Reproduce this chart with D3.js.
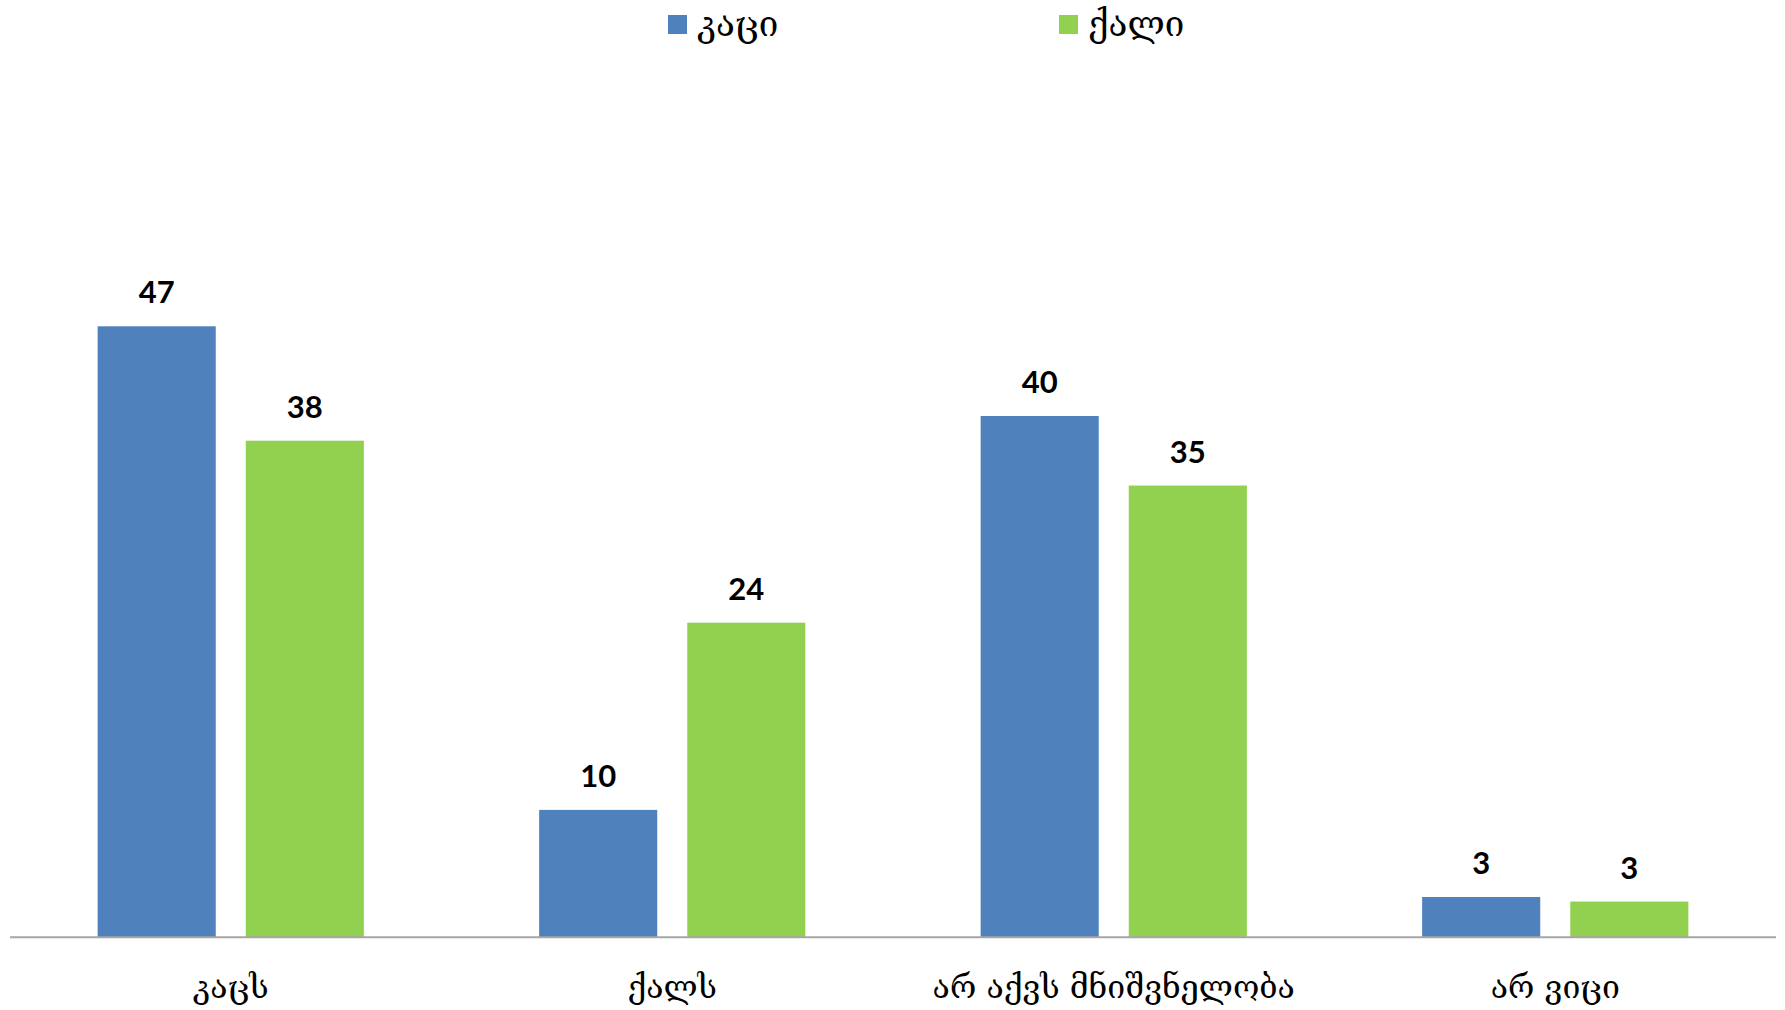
<!DOCTYPE html>
<html>
<head>
<meta charset="utf-8">
<script src="https://cdn.jsdelivr.net/npm/d3@7"></script>
<style>
  html, body { margin: 0; padding: 0; background: #fff; }
  svg { display: block; }
</style>
</head>
<body>
<svg id="chart" width="1785" height="1010"></svg>
<script>
const categories = ["კაცს", "ქალს", "არ აქვს მნიშვნელობა", "არ ვიცი"];
const seriesNames = ["კაცი", "ქალი"];
const menValues = [47, 9.8, 40.1, 3.1];
const womenValues = [38.2, 24.2, 34.75, 2.75];
const seriesColors = ["#4F81BD", "#92D050"];

const svg = d3.select("#chart");
const baseY = 937.3;
const georgianFont = "'DejaVu Serif', 'DejaVu Sans', serif";

const x0 = d3.scaleBand().domain(categories).range([10, 1776]).paddingInner(0).paddingOuter(0);
const bw = x0.bandwidth();
const x1 = d3.scaleBand().domain(seriesNames).range([bw * 0.1985, bw * 0.8015]).paddingInner(0.2027);
const y = d3.scaleLinear().domain([0, 50]).range([baseY, baseY - 650]);

const data = categories.map((c, i) => ({
  cat: c,
  vals: [
    { s: seriesNames[0], v: menValues[i], color: seriesColors[0] },
    { s: seriesNames[1], v: womenValues[i], color: seriesColors[1] }
  ]
}));

const groups = svg.append("g").selectAll("g")
  .data(data).join("g")
  .attr("transform", d => `translate(${x0(d.cat)},0)`);

groups.selectAll("rect")
  .data(d => d.vals).join("rect")
  .attr("x", d => x1(d.s))
  .attr("width", x1.bandwidth())
  .attr("y", d => y(d.v))
  .attr("height", d => y(0) - y(d.v))
  .attr("fill", d => d.color);

const fmt = d3.format(".0f");
groups.selectAll("text.val")
  .data(d => d.vals).join("text")
  .attr("class", "val")
  .attr("x", d => x1(d.s) + x1.bandwidth() / 2)
  .attr("y", d => y(d.v) - 23)
  .attr("text-anchor", "middle")
  .attr("font-family", "Lato, 'Open Sans', sans-serif")
  .attr("font-weight", 700)
  .attr("font-size", 31)
  .attr("fill", "#000")
  .text(d => fmt(d.v));

// x axis
const xAxis = d3.axisBottom(x0).tickSize(0).tickPadding(0);
const ax = svg.append("g").attr("transform", `translate(0,${baseY})`).call(xAxis);
ax.select(".domain").attr("stroke", "#a6a6a6").attr("stroke-width", 2).attr("d", `M10,0H1776`);
ax.selectAll(".tick text")
  .attr("y", 61)
  .attr("dy", 0)
  .attr("font-family", georgianFont)
  .attr("font-size", 32)
  .attr("fill", "#000");

// legend
const legendItems = [
  { name: seriesNames[0], color: seriesColors[0], x: 668 },
  { name: seriesNames[1], color: seriesColors[1], x: 1059 }
];
const lg = svg.append("g").selectAll("g").data(legendItems).join("g")
  .attr("transform", d => `translate(${d.x},15)`);
lg.append("rect").attr("width", 19).attr("height", 19).attr("fill", d => d.color);
lg.append("text")
  .attr("x", 29).attr("y", 21)
  .attr("font-family", georgianFont)
  .attr("font-size", 35)
  .attr("fill", "#000")
  .text(d => d.name);
</script>
</body>
</html>
